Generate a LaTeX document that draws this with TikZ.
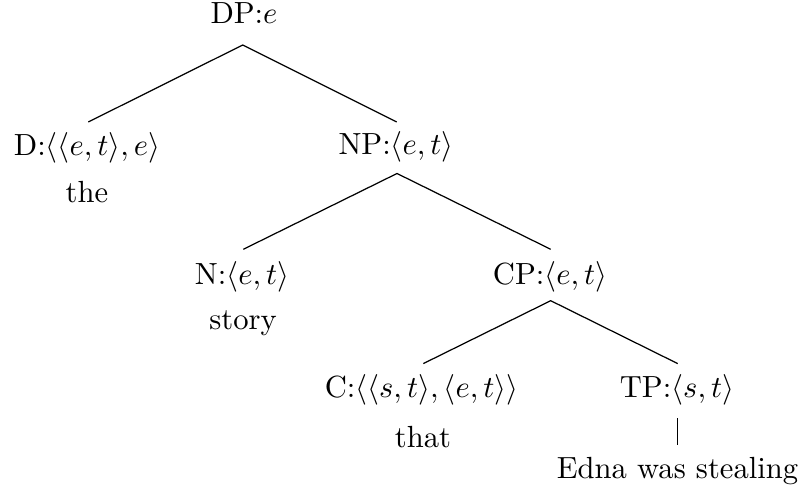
\documentclass[tikz,border=0pt]{standalone}
\usetikzlibrary{calc}
\begin{document}
\begin{tikzpicture}[x=0.3268pt,y=-0.3268pt,
  lbl/.style={inner sep=0pt,anchor=base},
  edge/.style={draw,line width=0.4pt}]
\useasboundingbox (0,0) rectangle (803,488);
% labels
\node[lbl] (dp) at (244,24) {DP:$e$};
\node[lbl] (d)  at (87,156) {D:$\langle\langle e,t\rangle,e\rangle$};
\node[lbl] (the) at (87,203) {the};
\node[lbl] (np) at (396,155) {NP:$\langle e,t\rangle$};
\node[lbl] (n)  at (242,285) {N:$\langle e,t\rangle$};
\node[lbl] (story) at (243,330) {story};
\node[lbl] (cp) at (550,285) {CP:$\langle e,t\rangle$};
\node[lbl] (c)  at (421.5,398) {C:$\langle\langle s,t\rangle,\langle e,t\rangle\rangle$};
\node[lbl] (that) at (423,447) {that};
\node[lbl] (tp) at (677,398) {TP:$\langle s,t\rangle$};
\node[lbl] (edna) at (677.5,479) {Edna was stealing};
% edges
\draw[edge] ($(d.base)+(1.3,-34)$) -- ($(dp.base)+(-1.3,21)$) -- ($(np.base)+(0.7,-33)$);
\draw[edge] ($(n.base)+(1.3,-35.7)$) -- ($(np.base)+(1,18.5)$) -- ($(cp.base)+(0.7,-35.7)$);
\draw[edge] ($(c.base)+(1.8,-34.4)$) -- ($(cp.base)+(0.7,15.7)$) -- ($(tp.base)+(0.7,-34.4)$);
\draw[edge] ($(tp.base)+(0.7,20.3)$) -- ($(edna.base)+(0.2,-34)$);
\end{tikzpicture}
\end{document}
